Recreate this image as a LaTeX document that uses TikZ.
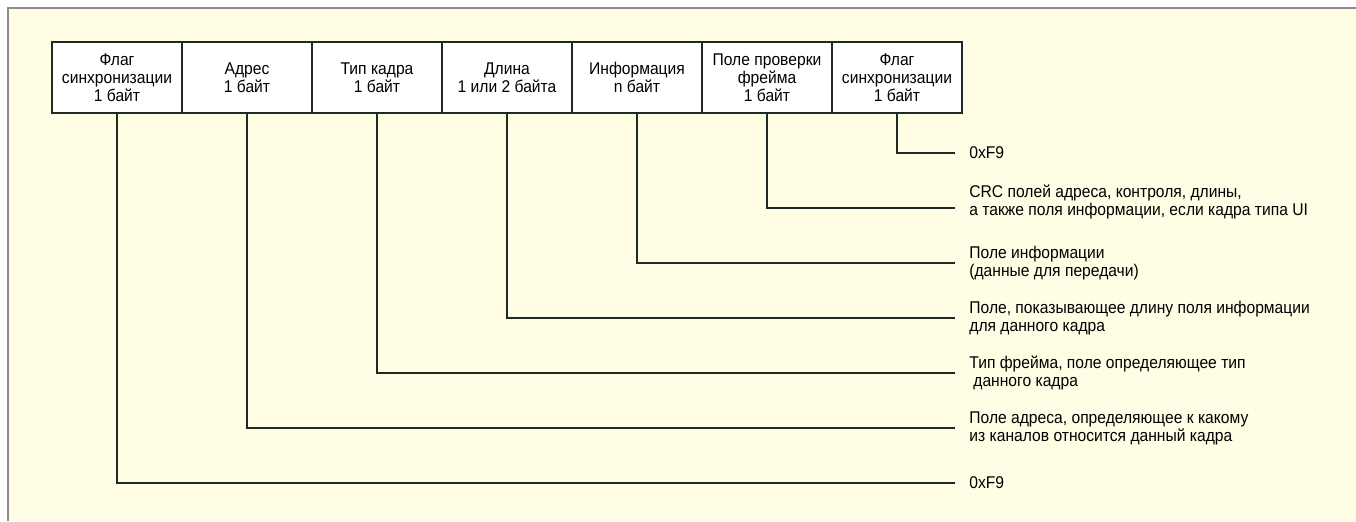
\documentclass[tikz,border=0pt]{standalone}
\usepackage{fontspec}
\setmainfont{Liberation Sans}[FakeStretch=0.92]
\usetikzlibrary{positioning}
\definecolor{paper}{HTML}{FFFDE4}
\definecolor{ink}{HTML}{1E2A24}
\definecolor{rim}{HTML}{8C8C8C}

\begin{document}
\begin{tikzpicture}[x=0.5pt,y=-0.5pt,
    field/.style={draw=ink,line width=1pt,fill=white,minimum width=65pt,
      minimum height=35.5pt,inner sep=0pt,outer sep=0pt,align=center,
      font=\fontsize{8.5}{9}\selectfont},
    lead/.style={draw=ink,line width=0.7pt},
    note/.style={anchor=west,align=left,inner sep=0pt,
      font=\fontsize{8.5}{9}\selectfont}]
  \useasboundingbox (0,0) rectangle (1356,521);
  \fill[white] (0,0) rectangle (1356,521);
  \fill[paper] (8,8) rectangle (1356,521);
  \draw[rim,line width=0.8pt] (8,521) -- (8,8) -- (1356,8);

  % frame fields
  \node[field] (f1) at (117,77.5) {Флаг\\синхронизации\\1 байт};
  \node[field,right=0pt of f1] (f2) {Адрес\\1 байт};
  \node[field,right=0pt of f2] (f3) {Тип кадра\\1 байт};
  \node[field,right=0pt of f3] (f4) {Длина\\1 или 2 байта};
  \node[field,right=0pt of f4] (f5) {Информация\\n байт};
  \node[field,right=0pt of f5] (f6) {Поле проверки\\фрейма\\1 байт};
  \node[field,right=0pt of f6] (f7) {Флаг\\синхронизации\\1 байт};

  % leader ends
  \foreach \i in {1,...,7}
    \coordinate (e\i) at (955,{153+55*(7-\i)});

  % notes
  \node[note,right=7pt of e7] (n7) {0xF9};
  \node[note,right=7pt of e6,yshift=3pt] (n6) {CRC полей адреса, контроля, длины,\\а также поля информации, если кадра типа UI};
  \node[note,right=7pt of e5] (n5) {Поле информации\\(данные для передачи)};
  \node[note,right=7pt of e4] (n4) {Поле, показывающее длину поля информации\\для данного кадра};
  \node[note,right=7pt of e3] (n3) {Тип фрейма, поле определяющее тип\\\hspace*{2pt}данного кадра};
  \node[note,right=7pt of e2] (n2) {Поле адреса, определяющее к какому\\из каналов относится данный кадра};
  \node[note,right=7pt of e1] (n1) {0xF9};

  \foreach \i in {1,...,7}
    \draw[lead] (f\i.south) |- (e\i);
\end{tikzpicture}
\end{document}
